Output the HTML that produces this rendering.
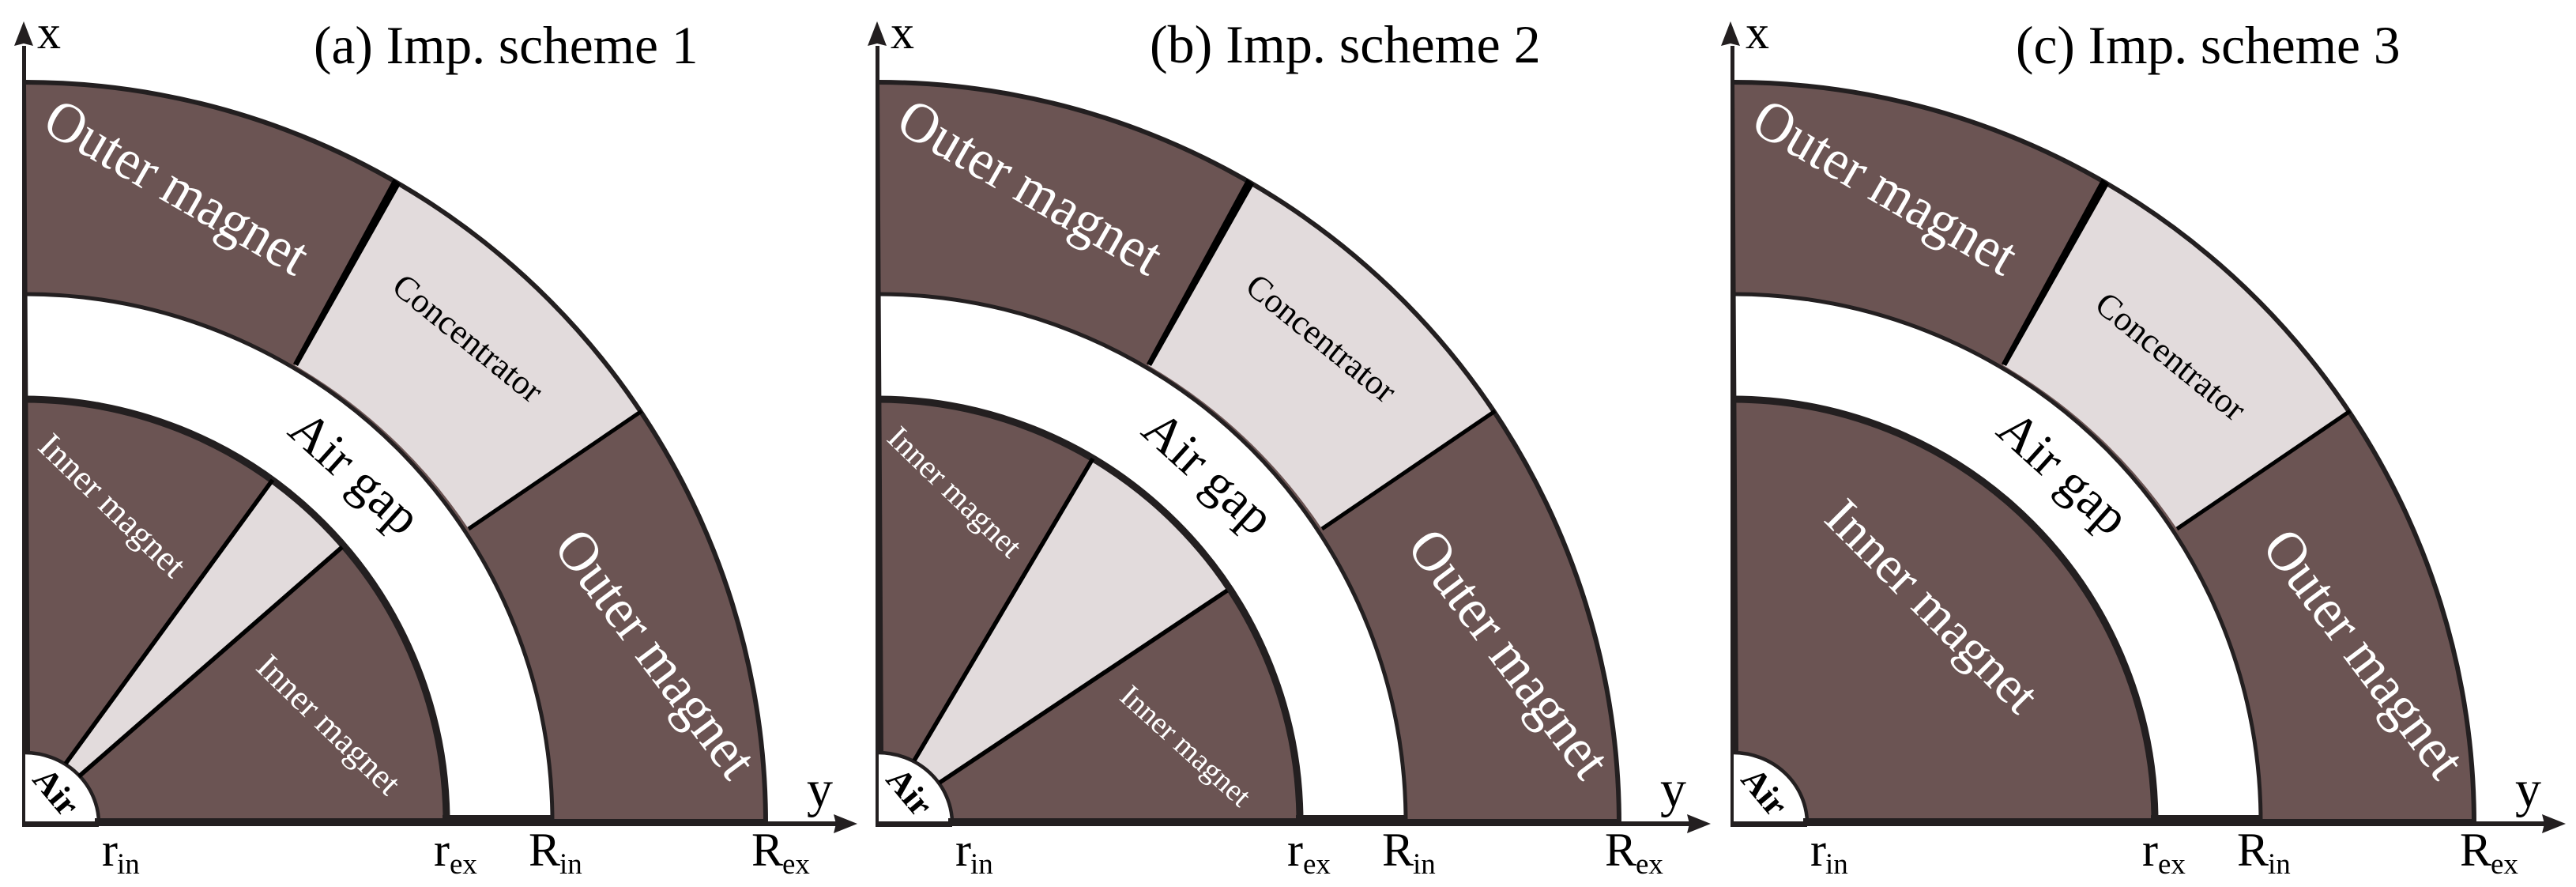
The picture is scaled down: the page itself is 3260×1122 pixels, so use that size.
<!DOCTYPE html>
<html><head><meta charset="utf-8"><style>
html,body{margin:0;padding:0;background:#fff;width:3260px;height:1122px;overflow:hidden}
svg{display:block}
text{font-family:"Liberation Serif",serif}
.m{fill:#6b5453}.c{fill:#e2dbdc}.s{stroke:#231f20;fill:none}.k{stroke:#000;fill:none}.d{fill:#231f20}.x{fill:#000}
.w{fill:#fff;text-anchor:middle}.b{fill:#000;text-anchor:middle}
.t{font-size:67.400px;fill:#000}.l{font-size:60px;fill:#000}.y{font-size:66px;fill:#000}.u{font-size:37px;fill:#000}
</style></head><body>
<svg width="3260" height="1122" viewBox="0 0 3260 1122" xmlns="http://www.w3.org/2000/svg">
<rect width="3260" height="1122" fill="#fff"/>

<!-- Panel a -->
<g>
<path class="m" d="M31,104A938,938 0 0 1 969,1042L699,1042A668,668 0 0 0 31,374Z"/>
<path class="c" d="M501,230A938,938 0 0 1 812,520L593,669A673,673 0 0 0 373,462Z"/>
<path class="m" d="M31,505A537,537 0 0 1 566,1040L125,1040A94,90 0 0 0 31,952Z"/>
<path class="c" d="M345,607A537,537 0 0 1 433,692L100,982L83,966Z"/>
<path fill="#fff" d="M31,952A94,90 0 0 1 125,1042L31,1042Z"/>
<path class="s" stroke-width="6" d="M31,104A938,938 0 0 1 969,1042"/>
<path class="s" stroke-width="5" d="M31,372A668,668 0 0 1 699,1040"/>
<path class="s" stroke-width="9" d="M31,505A535,535 0 0 1 565,1040"/>
<path class="s" stroke-width="4.500" d="M31,952A94,90 0 0 1 125,1040"/>
<path class="x" d="M498,226L507,233L377,463L371,460Z"/>
<path class="k" stroke-width="5" d="M812,520L593,669"/>
<path class="k" stroke-width="5.500" d="M345,607L83,966"/>
<path class="k" stroke-width="5.500" d="M433,692L100,982"/>
<path class="d" d="M28,58H33V104L38,950H32V1039H28Z"/>
<path class="d" d="M28,1039H125V1046H28Z"/><path class="d" d="M120,1035H560V1045H120Z"/>
<path class="d" d="M560,1031H700V1045H560Z"/><path class="d" d="M700,1036H970V1045H700Z"/>
<path class="d" d="M970,1039H1060V1045H970Z"/>
<path class="d" d="M1085,1042L1055,1030L1058,1042L1055,1054Z"/>
<path class="d" d="M30,27L18,58L30,55L42,58Z"/>
<text class="w" font-size="72" transform="translate(212,257) rotate(30) scale(.945,1)">Outer magnet</text>
<text class="w" font-size="72" transform="translate(811,841) rotate(53) scale(.945,1)">Outer magnet</text>
<text class="b" font-size="44" transform="translate(583,439) rotate(39)">Concentrator</text>
<text class="b" font-size="65" transform="translate(435,614) rotate(42)">Air gap</text>
<text class="w" font-size="45" transform="translate(132,650) rotate(44)">Inner magnet</text>
<text class="w" font-size="44" transform="translate(406,927) rotate(44)">Inner magnet</text>
<text class="b" font-size="44" font-weight="bold" transform="translate(60,1011) rotate(50)">Air</text>
<text class="t" x="397" y="80">(a) Imp. scheme 1</text>
<text class="l" x="47" y="61">x</text>
<text class="y" x="1021" y="1020">y</text>
<text class="l" x="129" y="1095">r</text><text class="u" x="148" y="1105">in</text>
<text class="l" x="549" y="1095">r</text><text class="u" x="569" y="1105">ex</text>
<text class="l" x="669" y="1095">R</text><text class="u" x="708" y="1105">in</text>
<text class="l" x="951" y="1095">R</text><text class="u" x="990" y="1105">ex</text>
</g>

<!-- Panel b -->
<g>
<path class="m" d="M1111,104A938,938 0 0 1 2049,1042L1779,1042A668,668 0 0 0 1111,374Z"/>
<path class="c" d="M1581,230A938,938 0 0 1 1892,520L1673,669A673,673 0 0 0 1453,462Z"/>
<path class="m" d="M1111,505A537,537 0 0 1 1646,1040L1205,1040A94,90 0 0 0 1111,952Z"/>
<path class="c" d="M1383,580A537,537 0 0 1 1553,747L1189,990L1157,962Z"/>
<path fill="#fff" d="M1111,952A94,90 0 0 1 1205,1042L1111,1042Z"/>
<path class="s" stroke-width="6" d="M1111,104A938,938 0 0 1 2049,1042"/>
<path class="s" stroke-width="5" d="M1111,372A668,668 0 0 1 1779,1040"/>
<path class="s" stroke-width="9" d="M1111,505A535,535 0 0 1 1645,1040"/>
<path class="s" stroke-width="4.500" d="M1111,952A94,90 0 0 1 1205,1040"/>
<path class="x" d="M1578,226L1587,233L1457,463L1451,460Z"/>
<path class="k" stroke-width="5" d="M1892,520L1673,669"/>
<path class="k" stroke-width="5.500" d="M1383,580L1157,962"/>
<path class="k" stroke-width="5.500" d="M1553,747L1189,990"/>
<path class="d" d="M1108,58H1113V104L1118,950H1112V1039H1108Z"/>
<path class="d" d="M1108,1039H1205V1046H1108Z"/><path class="d" d="M1200,1035H1640V1045H1200Z"/>
<path class="d" d="M1640,1031H1780V1045H1640Z"/><path class="d" d="M1780,1036H2050V1045H1780Z"/>
<path class="d" d="M2050,1039H2140V1045H2050Z"/>
<path class="d" d="M2165,1042L2135,1030L2138,1042L2135,1054Z"/>
<path class="d" d="M1110,27L1098,58L1110,55L1122,58Z"/>
<text class="w" font-size="72" transform="translate(1292,257) rotate(30) scale(.945,1)">Outer magnet</text>
<text class="w" font-size="72" transform="translate(1891,841) rotate(53) scale(.945,1)">Outer magnet</text>
<text class="b" font-size="44" transform="translate(1663,439) rotate(39)">Concentrator</text>
<text class="b" font-size="65" transform="translate(1515,614) rotate(42)">Air gap</text>
<text class="w" font-size="41" transform="translate(1199,632) rotate(44)">Inner magnet</text>
<text class="w" font-size="39" transform="translate(1492,953) rotate(42)">Inner magnet</text>
<text class="b" font-size="44" font-weight="bold" transform="translate(1140,1011) rotate(50)">Air</text>
<text style="font-size:68px" class="t" x="1455" y="79">(b) Imp. scheme 2</text>
<text class="l" x="1127" y="61">x</text>
<text class="y" x="2101" y="1020">y</text>
<text class="l" x="1209" y="1095">r</text><text class="u" x="1228" y="1105">in</text>
<text class="l" x="1629" y="1095">r</text><text class="u" x="1649" y="1105">ex</text>
<text class="l" x="1749" y="1095">R</text><text class="u" x="1788" y="1105">in</text>
<text class="l" x="2031" y="1095">R</text><text class="u" x="2070" y="1105">ex</text>
</g>

<!-- Panel c -->
<g>
<path class="m" d="M2193,104A938,938 0 0 1 3131,1042L2861,1042A668,668 0 0 0 2193,374Z"/>
<path class="c" d="M2663,230A938,938 0 0 1 2974,520L2755,669A673,673 0 0 0 2535,462Z"/>
<path class="m" d="M2193,505A537,537 0 0 1 2728,1040L2287,1040A94,90 0 0 0 2193,952Z"/>
<path fill="#fff" d="M2193,952A94,90 0 0 1 2287,1042L2193,1042Z"/>
<path class="s" stroke-width="6" d="M2193,104A938,938 0 0 1 3131,1042"/>
<path class="s" stroke-width="5" d="M2193,372A668,668 0 0 1 2861,1040"/>
<path class="s" stroke-width="9" d="M2193,505A535,535 0 0 1 2727,1040"/>
<path class="s" stroke-width="4.500" d="M2193,952A94,90 0 0 1 2287,1040"/>
<path class="x" d="M2660,226L2669,233L2539,463L2533,460Z"/>
<path class="k" stroke-width="5" d="M2974,520L2755,669"/>
<path class="d" d="M2190,58H2195V104L2200,950H2194V1039H2190Z"/>
<path class="d" d="M2190,1039H2287V1046H2190Z"/><path class="d" d="M2282,1035H2722V1045H2282Z"/>
<path class="d" d="M2722,1031H2862V1045H2722Z"/><path class="d" d="M2862,1036H3132V1045H2862Z"/>
<path class="d" d="M3132,1039H3222V1045H3132Z"/>
<path class="d" d="M3247,1042L3217,1030L3220,1042L3217,1054Z"/>
<path class="d" d="M2190,27L2178,58L2190,55L2202,58Z"/>
<text class="w" font-size="72" transform="translate(2374,257) rotate(30) scale(.945,1)">Outer magnet</text>
<text class="w" font-size="72" transform="translate(2973,841) rotate(53) scale(.945,1)">Outer magnet</text>
<text class="b" font-size="44" transform="translate(2738,462) rotate(39)">Concentrator</text>
<text class="b" font-size="65" transform="translate(2597,614) rotate(42)">Air gap</text>
<text class="w" font-size="66" transform="translate(2430,782) rotate(45)">Inner magnet</text>
<text class="b" font-size="44" font-weight="bold" transform="translate(2222,1011) rotate(50)">Air</text>
<text class="t" x="2551" y="80">(c) Imp. scheme 3</text>
<text class="l" x="2209" y="61">x</text>
<text class="y" x="3183" y="1020">y</text>
<text class="l" x="2291" y="1095">r</text><text class="u" x="2310" y="1105">in</text>
<text class="l" x="2711" y="1095">r</text><text class="u" x="2731" y="1105">ex</text>
<text class="l" x="2831" y="1095">R</text><text class="u" x="2870" y="1105">in</text>
<text class="l" x="3113" y="1095">R</text><text class="u" x="3152" y="1105">ex</text>
</g>
</svg>
</body></html>
